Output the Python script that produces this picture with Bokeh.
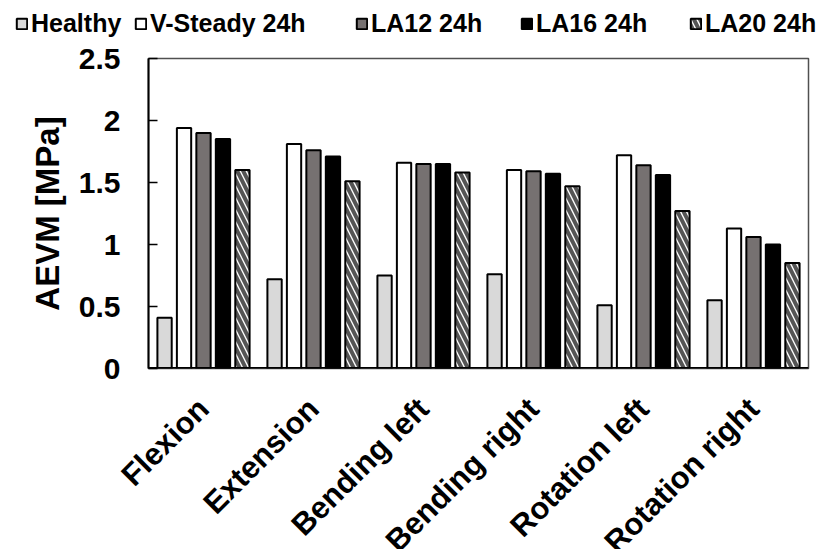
import math
from bokeh.plotting import figure
from bokeh.models import (ColumnDataSource, FactorRange, Range1d, Legend, LegendItem,
                          FixedTicker, Span)
from bokeh.transform import dodge
from bokeh.core.properties import value
from bokeh.embed import file_html
from bokeh.resources import INLINE

categories = ["Flexion", "Extension", "Bending left", "Bending right", "Rotation left", "Rotation right"]
series_names = ["Healthy", "V-Steady 24h", "LA12 24h", "LA16 24h", "LA20 24h"]
healthy = [0.41, 0.72, 0.75, 0.76, 0.51, 0.55]
v_steady = [1.94, 1.81, 1.66, 1.60, 1.72, 1.13]
la12 = [1.90, 1.76, 1.65, 1.59, 1.64, 1.06]
la16 = [1.85, 1.71, 1.65, 1.57, 1.56, 1.00]
la20 = [1.60, 1.51, 1.58, 1.47, 1.27, 0.85]
y_ticks = [0, 0.5, 1, 1.5, 2, 2.5]

FONT = "Liberation Sans"
W = 824
LEFT = 148
RIGHT = 16
FRAME_W = W - LEFT - RIGHT
fills = ["#d9d9d9", "white", "#767171", "black", "white"]
cols = ["healthy", "v_steady", "la12", "la16", "la20"]
offsets = [-0.354, -0.177, 0.0, 0.177, 0.354]
HATCH = dict(hatch_pattern="left_diagonal_line", hatch_color="#555555",
             hatch_scale=12, hatch_weight=4)

# ---------- legend strip ----------
LEG_H = 40
leg = figure(width=W, height=LEG_H, x_range=Range1d(0, 1), y_range=Range1d(0, 1),
             min_border=0, x_axis_location=None, y_axis_location=None,
             output_backend="svg", toolbar_location=None, tools="")
leg.xgrid.visible = False
leg.ygrid.visible = False
leg.outline_line_color = None
leg_x = [15, 134, 355, 520, 689]
for name, f, c, lx in zip(series_names, fills, cols, leg_x):
    kw = HATCH if c == "la20" else {}
    # legend-only renderer (hidden; its legend swatch is still drawn)
    r = leg.vbar(x=[0.5], top=[1], bottom=[0], width=0.01, fill_color=f,
                 line_color="black", line_width=2, visible=False, **kw)
    lg = Legend(items=[LegendItem(label=name, renderers=[r])], location=(lx, 2),
                label_text_font=FONT, label_text_font_style="bold",
                label_text_font_size="25px", label_text_color="black",
                glyph_width=13, glyph_height=13, label_standoff=3, padding=0, margin=0,
                border_line_alpha=0, background_fill_alpha=0, label_height=26,
                inactive_fill_alpha=0)
    leg.add_layout(lg, "center")

# ---------- main chart ----------
src = ColumnDataSource(dict(cat=categories, healthy=healthy, v_steady=v_steady,
                            la12=la12, la16=la16, la20=la20))
MAIN_H = 344
p = figure(x_range=FactorRange(*categories, range_padding=0), y_range=Range1d(0, 2.5),
           width=W, height=MAIN_H, min_border_left=LEFT, min_border_top=18,
           min_border_right=RIGHT, min_border_bottom=16, x_axis_location=None,
           output_backend="svg", toolbar_location=None, tools="")
for c, f, o in zip(cols, fills, offsets):
    kw = HATCH if c == "la20" else {}
    p.vbar(x=dodge("cat", o, range=p.x_range), top=c, width=0.13, bottom=0, source=src,
           fill_color=f, line_color="black", line_width=2, **kw)

p.add_layout(Span(location=0, dimension="width", line_color="black", line_width=3))
p.xgrid.visible = False
p.ygrid.visible = False
p.outline_line_color = "#505050"
p.outline_line_width = 1.5

p.yaxis.ticker = FixedTicker(ticks=y_ticks)
p.yaxis.minor_tick_line_color = None
p.yaxis.major_tick_in = 9
p.yaxis.major_tick_out = 0
p.yaxis.major_tick_line_width = 1.5
p.yaxis.major_tick_line_color = "black"
p.yaxis.major_label_standoff = 28
p.yaxis.axis_line_color = "black"
p.yaxis.axis_line_width = 2
p.yaxis.major_label_text_font = FONT
p.yaxis.major_label_text_font_style = "bold"
p.yaxis.major_label_text_font_size = "30px"
p.yaxis.major_label_text_color = "black"
p.yaxis.axis_label = "AEVM [MPa]"
p.yaxis.axis_label_text_font = FONT
p.yaxis.axis_label_text_font_style = "bold"
p.yaxis.axis_label_text_font_size = "33px"
p.yaxis.axis_label_text_color = "black"
p.yaxis.axis_label_standoff = 10

# ---------- category labels strip (clipped at the bottom like the reference) ----------
LAB_H = 165
n = len(categories)
lab = figure(width=W, height=LAB_H,
             x_range=Range1d(-LEFT / (FRAME_W / n), (W - LEFT) / (FRAME_W / n)),
             y_range=Range1d(LAB_H, 0), min_border=0,
             x_axis_location=None, y_axis_location=None,
             output_backend="svg", toolbar_location=None, tools="")
lab.xgrid.visible = False
lab.ygrid.visible = False
lab.outline_line_color = None
lab_src = ColumnDataSource(dict(x=[i + 0.5 for i in range(n)], y=[19] * n, t=categories))
lab.text(x="x", y="y", text="t", source=lab_src, angle=math.pi / 4,
         text_align="right", text_baseline="middle", x_offset=0,
         text_font=value(FONT), text_font_style="bold", text_font_size="31px",
         text_color="black")

open("out.html", "w").write(file_html([leg, p, lab], INLINE))
